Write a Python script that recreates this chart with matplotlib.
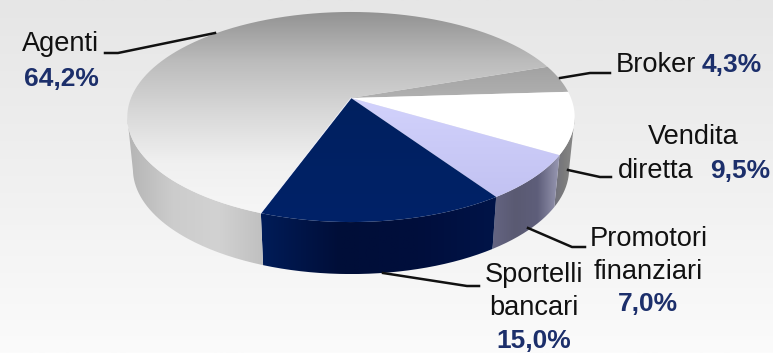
import numpy as np
import matplotlib
matplotlib.use("Agg")
from matplotlib import pyplot as plt
from matplotlib.colors import LinearSegmentedColormap
from matplotlib.patches import PathPatch
from matplotlib.path import Path

# quote di mercato, in senso orario a partire da Broker
canali = ["Broker", "Vendita diretta", "Promotori finanziari", "Sportelli bancari", "Agenti"]
quote = [4.3, 9.5, 7.0, 15.0, 64.2]

top_colors = [["#a2a2a2", "#b0b0b0"], ["#ffffff", "#ffffff"], ["#d2d2fc", "#c2c2f2"],
              ["#00205f", "#002268"], ["#929292", "#bcbcbc", "#d8d8d8", "#f0f0f0", "#f6f6f6"]]
# pareti: colori da sinistra a destra
wall_colors = [["#808080", "#808080"], ["#70707c", "#7c7c7c", "#8a8a8a"], ["#646482", "#5a5a72", "#5e5e7a", "#9a9ab4"],
               ["#001c58", "#000e38", "#000e3c", "#001448"], ["#b4b4b4", "#cccccc", "#d2d2d2", "#c0c0c0"]]

CX, CY = 351, 98      # centro della torta in pixel
A, H, K = 220, 101.6, 0.181   # prospettiva del disco
DEPTH, SHRINK = 52, 0.975
START = 19

def project(t, lower=False):
    u, v = np.cos(t), np.sin(t)
    x = A * u / (1 + K * v)
    y = CY - H * v / (1 + K * v)
    if lower:
        return CX + x * SHRINK, y + DEPTH
    return CX + x, y

def gradient(ax, colors, path, vertical=True):
    cmap = LinearSegmentedColormap.from_list("g", colors)
    g = np.linspace(0, 1, 256)
    g = g[:, None] if vertical else g[None, :]
    x, y = path.vertices[:, 0], path.vertices[:, 1]
    ext = (x.min(), x.max(), y.max(), y.min())
    im = ax.imshow(g, cmap=cmap, extent=ext, aspect="auto", origin="upper", interpolation="bilinear")
    patch = PathPatch(path, fc="none", ec="none", transform=ax.transData)
    ax.add_patch(patch)
    im.set_clip_path(patch)

plt.rcParams["font.family"] = "Liberation Sans"
fig = plt.figure(figsize=(7.73, 3.53), dpi=100)
ax = fig.add_axes([0, 0, 1, 1])
ax.axis("off")

# sfondo
bg = LinearSegmentedColormap.from_list("bg", ["#e6e6e6", "#f0f0f0", "#fbfbfb"])
ax.imshow(np.linspace(0, 1, 256)[:, None], cmap=bg, extent=(0, 773, 353, 0), aspect="auto")

fine = START - np.cumsum(quote) * 3.6
inizio = np.r_[START, fine[:-1]]

# pareti laterali, solo la parte davanti ai punti estremi del disco
for a0, a1, colors in zip(inizio, fine, wall_colors):
    t = np.radians(np.linspace(a0, a1, 400))
    t = t[np.sin(t) < -K]
    if len(t) < 2:
        continue
    x0, y0 = project(t)
    x1, y1 = project(t, lower=True)
    verts = np.r_[np.c_[x0, y0], np.c_[x1, y1][::-1], np.c_[x0, y0][:1]]
    gradient(ax, colors, Path(verts), vertical=False)

# facce superiori
for a0, a1, colors in zip(inizio, fine, top_colors):
    t = np.radians(np.linspace(a0, a1, 400))
    x0, y0 = project(t)
    verts = np.r_[[[CX, CY]], np.c_[x0, y0], [[CX, CY]]]
    gradient(ax, colors, Path(verts))

# bordo chiaro tra Agenti e Sportelli
ex, ey = project(np.radians(fine[3]))
ax.plot([CX, ex], [CY, ey], color="#f4f4ff", lw=0.7, alpha=0.8)

# linee guida
guide_x = [[105, 118, 215], [560, 590, 610], [568, 600, 611], [528, 572, 585], [383, 467, 479]]
guide_y = [[53, 53, 33], [78, 73, 73], [170, 177, 177], [228, 247, 247], [273, 286, 286]]
for gx, gy in zip(guide_x, guide_y):
    ax.plot(gx, gy, color="#111111", lw=1.8, solid_joinstyle="round")

def perc(v):
    return f"{v:.1f}".replace(".", ",") + "%"

FS = 19.6
NAVY = "#1c2f6b"
etichette = [("Agenti", 61, 44, "center"), ("Broker", 616, 65, "left"), ("Vendita", 693, 137, "center"),
             ("diretta", 618, 171, "left"), ("Promotori", 649, 239, "center"), ("finanziari", 648, 272, "center"),
             ("Sportelli", 534, 275, "center"), ("bancari", 534, 308, "center")]
for s, x, y, ha in etichette:
    ax.text(x, y, s, fontsize=FS, ha=ha, va="center", color="#111111")

pos_valori = {"Agenti": (61, 79, "center"), "Broker": (702, 65, "left"), "Vendita diretta": (710, 171, "left"),
              "Promotori finanziari": (648, 304, "center"), "Sportelli bancari": (534, 341, "center")}
for nome, v in zip(canali, quote):
    x, y, ha = pos_valori[nome]
    ax.text(x, y, perc(v), fontsize=19, fontweight="bold", ha=ha, va="center", color=NAVY)

ax.set_xlim(0, 773)
ax.set_ylim(353, 0)
fig.savefig("out.png", dpi=100)
